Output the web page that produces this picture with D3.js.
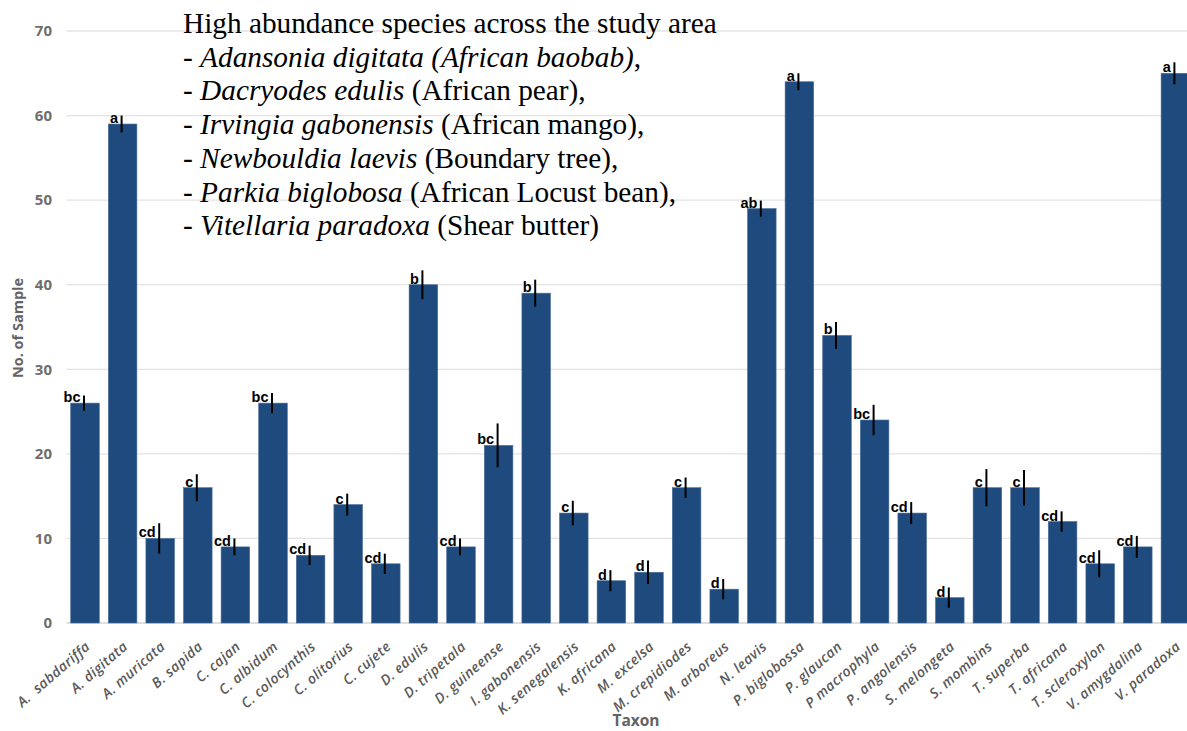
<!DOCTYPE html>
<html>
<head>
<meta charset="utf-8">
<script src="https://cdn.jsdelivr.net/npm/d3@7"></script>
<style>
  html, body { margin: 0; padding: 0; background: #fff; }
  svg { display: block; }
</style>
</head>
<body>
<svg id="chart" width="1187" height="731"></svg>
<script>
const categories = ["A.  sabdariffa","A. digitata","A. muricata","B. sapida","C. cajan","C. albidum","C. colocynthis","C. olitorius","C. cujete","D. edulis","D. tripetala","D. guineense","I. gabonensis","K. senegalensis","K. africana","M. excelsa","M. crepidiodes","M. arboreus","N. leavis","P. biglobossa","P. glaucan","P macrophyla","P. angolensis","S. melongeta","S. mombins","T. superba","T. africana","T. scleroxylon","V. amygdalina","V. paradoxa"];
const values = [26,59,10,16,9,26,8,14,7,40,9,21,39,13,5,6,16,4,49,64,34,24,13,3,16,16,12,7,9,65];
const errors = [0.9,1.0,1.8,1.6,1.0,1.2,1.15,1.3,1.2,1.7,1.0,2.6,1.6,1.45,1.25,1.4,1.2,1.2,0.95,1.0,1.6,1.8,1.3,1.2,2.2,2.1,1.2,1.6,1.3,1.3];
const letters = ["bc","a","cd","c","cd","bc","cd","c","cd","b","cd","bc","b","c","d","d","c","d","ab","a","b","bc","cd","d","c","c","cd","cd","cd","a"];
const yTicks = [0,10,20,30,40,50,60,70];
const noteLines = [
  [{t:"High abundance species across the study area", i:false}],
  [{t:"- ", i:false},{t:"Adansonia digitata (African baobab)", i:true},{t:",", i:false}],
  [{t:"- ", i:false},{t:"Dacryodes edulis", i:true},{t:" (African pear),", i:false}],
  [{t:"- ", i:false},{t:"Irvingia gabonensis", i:true},{t:" (African mango),", i:false}],
  [{t:"- ", i:false},{t:"Newbouldia laevis", i:true},{t:" (Boundary tree),", i:false}],
  [{t:"- ", i:false},{t:"Parkia biglobosa", i:true},{t:" (African Locust bean),", i:false}],
  [{t:"- ", i:false},{t:"Vitellaria paradoxa", i:true},{t:" (Shear butter)", i:false}]
];

const svg = d3.select("#chart");
const W = 1187, H = 731;

const x = d3.scaleBand().domain(categories).range([66.2, 1194.2]).paddingInner(0.24).paddingOuter(0.12);
const y = d3.scaleLinear().domain([0,70]).range([623,31]);

// y axis tick labels
const yAxis = d3.axisLeft(y).tickValues(yTicks).tickSize(0).tickPadding(0);
const gy = svg.append("g").attr("transform","translate(52,0)").call(yAxis);
gy.select(".domain").remove();
gy.attr("font-size",null).attr("font-family",null);
gy.selectAll("text")
  .style("font-family","'Open Sans', sans-serif").style("font-weight","700")
  .style("font-size","15px").style("fill","#6e6e6e")
  .attr("x",0).attr("text-anchor","end");

// gridlines
svg.append("g").selectAll("line").data(yTicks).join("line")
  .attr("x1",66.5).attr("x2",W).attr("y1",d=>y(d)).attr("y2",d=>y(d))
  .attr("stroke", d=> d===0 ? "#d4d4d4" : "#e3e3e3").attr("stroke-width",1.3);

// bars
const data = categories.map((c,i)=>({c, v:values[i], e:errors[i], l:letters[i]}));
svg.append("g").selectAll("rect").data(data).join("rect")
  .attr("x",d=>x(d.c)).attr("width",x.bandwidth())
  .attr("y",d=>y(d.v)).attr("height",d=>y(0)-y(d.v))
  .attr("fill","#1f4a7e").attr("stroke","#4a6d99").attr("stroke-width",0.6);

// error bars
const ex = d => x(d.c) + x.bandwidth()/2 - 1;
svg.append("g").selectAll("line").data(data).join("line")
  .attr("x1",ex).attr("x2",ex)
  .attr("y1",d=>y(d.v+d.e)).attr("y2",d=>y(d.v-d.e))
  .attr("stroke","#000").attr("stroke-width",2);

// letters
svg.append("g").selectAll("text").data(data).join("text")
  .attr("x",d=>ex(d)-3.5).attr("y",d=>y(d.v)-1)
  .attr("text-anchor","end")
  .style("font-family","'Liberation Sans', Arial, sans-serif").style("font-weight","700")
  .style("font-size","14.5px").style("fill","#000")
  .text(d=>d.l);

// x labels
svg.append("g").selectAll("text").data(categories).join("text")
  .attr("transform",d=>`translate(${x(d)+x.bandwidth()/2+6},648) rotate(-41)`)
  .attr("text-anchor","end")
  .style("white-space","pre")
  .style("font-family","'Open Sans', sans-serif").style("font-style","italic").style("font-weight","600")
  .style("font-size","14px").style("letter-spacing","0.4px").style("fill","#595959")
  .text(d=>d);

// axis titles
svg.append("text").attr("x",636).attr("y",726).attr("text-anchor","middle")
  .style("font-family","'Open Sans', sans-serif").style("font-weight","700").style("font-size","15.5px")
  .style("fill","#636363").text("Taxon");
svg.append("text").attr("transform","translate(23,328) rotate(-90)").attr("text-anchor","middle")
  .style("font-family","'Open Sans', sans-serif").style("font-weight","700").style("font-size","14.5px")
  .style("fill","#636363").text("No. of Sample");

// annotation
const note = svg.append("g");
noteLines.forEach((line,k)=>{
  const t = note.append("text").attr("x",183).attr("y",33 + k*33.7)
    .style("font-family","'Liberation Serif', 'Times New Roman', serif").style("font-size","29.3px")
    .style("fill","#000").style("white-space","pre");
  line.forEach(s=>{
    t.append("tspan").style("font-style", s.i ? "italic" : "normal").text(s.t);
  });
});
</script>
</body>
</html>
